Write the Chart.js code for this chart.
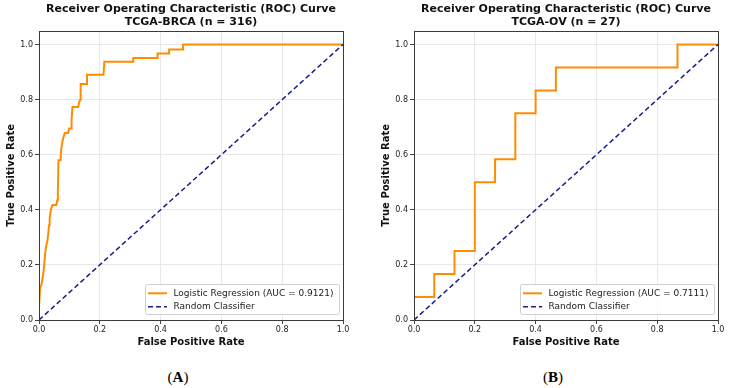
<!DOCTYPE html>
<html><head><meta charset="utf-8">
<script src="https://cdn.jsdelivr.net/npm/chart.js@4"></script>
<style>
html,body{margin:0;padding:0;background:#fff;width:729px;height:388px;overflow:hidden;}
#wrap{position:relative;width:729px;height:388px;background:#fff;}
canvas{position:absolute;top:0;}
.cap{position:absolute;top:369px;font-family:"Liberation Serif","Times New Roman",serif;font-size:15px;line-height:17px;color:#000;transform:translateX(-50%);white-space:nowrap;}
</style></head><body>
<div id="wrap">
<canvas id="c1" width="364" height="350" style="left:0"></canvas>
<canvas id="c2" width="354" height="350" style="left:375px"></canvas>
<div class="cap" style="left:178px">(<b>A</b>)</div>
<div class="cap" style="left:553px">(<b>B</b>)</div>
</div>
<script>
const brcaFpr = [0, 0, 0.004, 0.008, 0.011, 0.014, 0.017, 0.020, 0.024, 0.028, 0.031, 0.033, 0.035, 0.040, 0.044, 0.057, 0.060, 0.062, 0.064, 0.071, 0.073, 0.076, 0.079, 0.085, 0.096, 0.099, 0.107, 0.107, 0.110, 0.129, 0.132, 0.136, 0.137, 0.158, 0.158, 0.212, 0.215, 0.310, 0.310, 0.390, 0.390, 0.428, 0.428, 0.474, 0.474, 1.0];
const brcaTpr = [0, 0.05, 0.115, 0.13, 0.145, 0.17, 0.196, 0.24, 0.27, 0.29, 0.32, 0.344, 0.368, 0.405, 0.417, 0.417, 0.435, 0.465, 0.58, 0.58, 0.62, 0.64, 0.658, 0.679, 0.679, 0.695, 0.695, 0.725, 0.773, 0.773, 0.79, 0.80, 0.857, 0.857, 0.89, 0.89, 0.937, 0.937, 0.951, 0.951, 0.967, 0.967, 0.982, 0.982, 1.0, 1.0];
const ovFpr = [0, 0, 0.0667, 0.0667, 0.1333, 0.1333, 0.2, 0.2, 0.2667, 0.2667, 0.3333, 0.3333, 0.4, 0.4, 0.4667, 0.4667, 0.8667, 0.8667, 1.0];
const ovTpr = [0, 0.0833, 0.0833, 0.1667, 0.1667, 0.25, 0.25, 0.5, 0.5, 0.5833, 0.5833, 0.75, 0.75, 0.8333, 0.8333, 0.9167, 0.9167, 1.0, 1.0];
const diagX = [0, 1];
const diagY = [0, 1];
const tickValues = [0, 0.2, 0.4, 0.6, 0.8, 1.0];
const titlesA = ['Receiver Operating Characteristic (ROC) Curve', 'TCGA-BRCA (n = 316)'];
const titlesB = ['Receiver Operating Characteristic (ROC) Curve', 'TCGA-OV (n = 27)'];
const rocLabelA = 'Logistic Regression (AUC = 0.9121)';
const rocLabelB = 'Logistic Regression (AUC = 0.7111)';
const diagLabel = 'Random Classifier';
const xTitle = 'False Positive Rate';
const yTitle = 'True Positive Rate';

const FONT = '"DejaVu Sans", sans-serif';
function pts(xs, ys) { return xs.map((x, i) => ({x: x, y: ys[i]})); }

const boxPlugin = {
  id: 'box',
  afterDatasetsDraw(chart) {
    const ctx = chart.ctx, a = chart.chartArea;
    ctx.save();
    ctx.strokeStyle = '#3a3a3a';
    ctx.lineWidth = 1;
    const l = Math.round(a.left) + 0.5, t = Math.round(a.top) + 0.5;
    const r = Math.round(a.right) + 0.5, b = Math.round(a.bottom) + 0.5;
    ctx.strokeRect(l, t, r - l, b - t);
    ctx.restore();
  }
};

const legendPlugin = {
  id: 'innerLegend',
  afterDraw(chart) {
    const ctx = chart.ctx, a = chart.chartArea;
    ctx.save();
    ctx.font = '9px ' + FONT;
    const items = chart.data.datasets;
    const tw = Math.max(...items.map(d => ctx.measureText(d.label).width));
    const w = 3.5 + 19 + 6.5 + tw + 5;
    const h = 30;
    const right = a.right - 4.5, bottom = a.bottom - 6;
    const x = right - w, y = bottom - h;
    ctx.fillStyle = 'rgba(255,255,255,0.85)';
    ctx.strokeStyle = '#cfcfcf';
    ctx.lineWidth = 1;
    ctx.beginPath();
    ctx.roundRect(Math.round(x) + 0.5, Math.round(y) + 0.5, Math.round(w), Math.round(h), 2);
    ctx.fill();
    ctx.stroke();
    items.forEach((d, i) => {
      const cy = y + 9.3 + i * 13.4;
      ctx.strokeStyle = d.borderColor;
      ctx.lineWidth = d.borderWidth;
      ctx.setLineDash(d.borderDash || []);
      ctx.beginPath();
      ctx.moveTo(x + 3.5, cy);
      ctx.lineTo(x + 22.5, cy);
      ctx.stroke();
      ctx.setLineDash([]);
      ctx.fillStyle = '#222';
      ctx.textBaseline = 'middle';
      ctx.textAlign = 'left';
      ctx.fillText(d.label, x + 29, cy);
    });
    ctx.restore();
  }
};

function makeChart(id, fpr, tpr, titles, rocLabel, padRight) {
  return new Chart(document.getElementById(id), {
    type: 'scatter',
    data: {datasets: [
      {label: rocLabel, data: pts(fpr, tpr), showLine: true, borderColor: '#ff8c00', backgroundColor: '#ff8c00', borderWidth: 2, pointRadius: 0, tension: 0, order: 2},
      {label: diagLabel, data: pts(diagX, diagY), showLine: true, borderColor: '#1c1c8a', backgroundColor: '#1c1c8a', borderWidth: 1.5, borderDash: [5, 3], pointRadius: 0, tension: 0, order: 1}
    ]},
    options: {
      responsive: false, animation: false, devicePixelRatio: 1,
      layout: {padding: {left: 0, right: padRight, top: 0, bottom: 0}},
      plugins: {
        legend: {display: false}, tooltip: {enabled: false},
        title: {display: true, text: titles, fullSize: false, color: '#111',
          font: {family: FONT, size: 11, weight: 'bold', lineHeight: 1.2},
          padding: {top: 2.4, bottom: 1.9}}
      },
      scales: {
        x: {type: 'linear', min: 0, max: 1,
          afterBuildTicks: s => { s.ticks = tickValues.map(v => ({value: v})); },
          afterFit: s => { s.height = 30; },
          ticks: {callback: v => Number(v).toFixed(1), font: {family: FONT, size: 8}, color: '#222', padding: 1, maxRotation: 0, autoSkip: false},
          grid: {color: '#e8e8e8', tickColor: '#444', tickLength: 4, lineWidth: 1},
          border: {display: false},
          title: {display: true, text: xTitle, color: '#111', font: {family: FONT, size: 10, weight: 'bold', lineHeight: 1.2}, padding: {top: 0, bottom: 2}}
        },
        y: {type: 'linear', min: 0, max: 1.05,
          afterBuildTicks: s => { s.ticks = tickValues.map(v => ({value: v})); },
          afterFit: s => { s.width = 39; },
          ticks: {callback: v => Number(v).toFixed(1), font: {family: FONT, size: 8}, color: '#222', padding: 2, autoSkip: false},
          grid: {color: '#e8e8e8', tickColor: '#444', tickLength: 4, lineWidth: 1},
          border: {display: false},
          title: {display: true, text: yTitle, color: '#111', font: {family: FONT, size: 10, weight: 'bold', lineHeight: 1.2}, padding: {top: 5.5, bottom: 0}}
        }
      }
    },
    plugins: [boxPlugin, legendPlugin]
  });
}

makeChart('c1', brcaFpr, brcaTpr, titlesA, rocLabelA, 21);
makeChart('c2', ovFpr, ovTpr, titlesB, rocLabelB, 11);
</script>
</body></html>
